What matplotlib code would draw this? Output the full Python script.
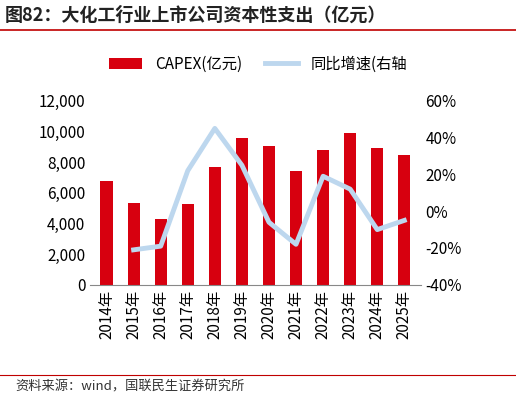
import matplotlib.pyplot as plt
import numpy as np

plt.rcParams['font.family'] = ['Noto Sans CJK SC', 'DejaVu Sans']

years = ['2014年', '2015年', '2016年', '2017年', '2018年', '2019年',
         '2020年', '2021年', '2022年', '2023年', '2024年', '2025年']
capex = [6800, 5350, 4300, 5300, 7700, 9600, 9050, 7400, 8800, 9900, 8900, 8450]
growth = [np.nan, -21, -19, 22, 45, 25, -6, -18, 19, 12, -10, -5]

fig = plt.figure(figsize=(5.16, 4.0), dpi=100)
ax = fig.add_axes([0.175, 0.288, 0.64, 0.46])
x = np.arange(len(years))
ax.bar(x, capex, width=0.45, color='#D7000F', label='CAPEX(亿元)')
ax.set_ylim(0, 12000)
ax.set_yticks(range(0, 12001, 2000))
ax.set_yticklabels([f'{v:,}' for v in range(0, 12001, 2000)])
ax.set_xlim(-0.6, len(years) - 0.4)
ax.set_xticks(x)
ax.set_xticklabels(years, rotation=90, fontsize=11)
ax.tick_params(axis='y', labelsize=11, length=0)
ax.tick_params(axis='x', length=0)
for s in ['top', 'right', 'left']:
    ax.spines[s].set_visible(False)
ax.spines['bottom'].set_color('#888888')

ax2 = ax.twinx()
ax2.plot(x, growth, color='#BDD7EE', lw=3.5, label='同比增速(右轴')
ax2.set_ylim(-40, 60)
ax2.set_yticks(range(-40, 61, 20))
ax2.set_yticklabels([f'{v}%' for v in range(-40, 61, 20)])
ax2.tick_params(axis='y', labelsize=11, length=0)
for s in ax2.spines.values():
    s.set_visible(False)

h1, l1 = ax.get_legend_handles_labels()
h2, l2 = ax2.get_legend_handles_labels()
fig.legend(h1 + h2, l1 + l2, loc='center', bbox_to_anchor=(0.5, 0.84), ncol=2,
           frameon=False, fontsize=11, handlelength=2.2, columnspacing=1.5)

fig.text(0.01, 0.962, '图82：大化工行业上市公司资本性支出（亿元）', fontsize=13,
         fontweight='bold', color='#222222', va='center')
fig.add_artist(plt.Line2D([0.0, 1.0], [0.925, 0.925], color='#C00000', lw=1.2))
fig.add_artist(plt.Line2D([0.0, 1.0], [0.062, 0.062], color='#C00000', lw=0.8))
fig.text(0.03, 0.033, '资料来源：wind，国联民生证券研究所', fontsize=9.5,
         color='#333333', va='center')

fig.savefig('out.png', dpi=100)
